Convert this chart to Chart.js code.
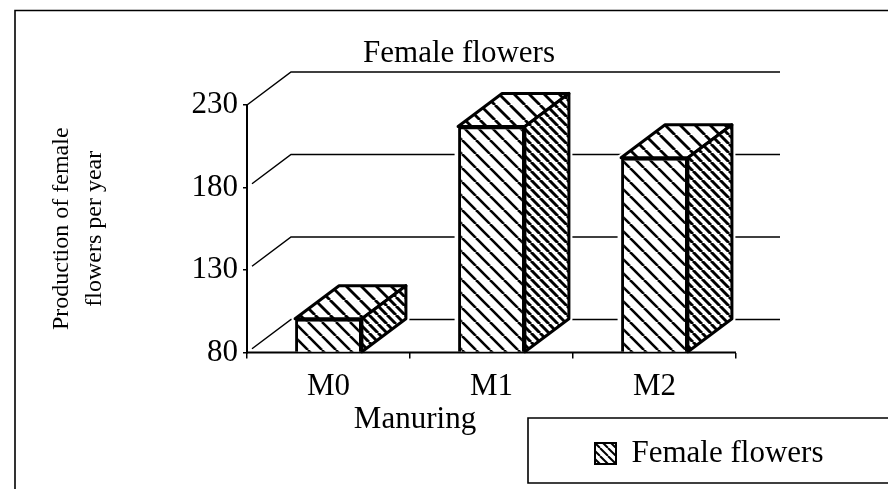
<!DOCTYPE html>
<html>
<head>
<meta charset="utf-8">
<style>html,body{margin:0;padding:0;background:#fff}canvas{display:block}</style>
<script src="https://cdn.jsdelivr.net/npm/chart.js@4/dist/chart.umd.min.js"></script>
</head>
<body>
<canvas id="c" width="888" height="489"></canvas>
<script>
const categories = ['M0', 'M1', 'M2'];
const femaleFlowers = [100.5, 217, 198];
const seriesName = 'Female flowers';
const chartTitle = 'Female flowers';
const yAxisTitle = ['Production of female', 'flowers per year'];
const xAxisTitle = 'Manuring';
const yMin = 80, yMax = 230, yStep = 50;

const FONT = '"Liberation Serif"';
const INK = '#000';
const DEPTH_X = 44, DEPTH_Y = -33;

function hatch(period, width) {
  const t = document.createElement('canvas');
  t.width = t.height = period;
  const g = t.getContext('2d');
  g.fillStyle = '#fff'; g.fillRect(0, 0, period, period);
  g.strokeStyle = INK; g.lineWidth = width;
  [-period, 0, period].forEach(o => {
    g.beginPath(); g.moveTo(o, 0); g.lineTo(o + period, period); g.stroke();
  });
  return document.createElement('canvas').getContext('2d').createPattern(t, 'repeat');
}
const frontHatch = hatch(14, 2.6);
const topHatch = hatch(15, 2.8);
const sideHatch = hatch(9, 3);
const swatchHatch = hatch(8, 2);

function poly(ctx, pts) {
  ctx.beginPath();
  pts.forEach((p, i) => i ? ctx.lineTo(p[0], p[1]) : ctx.moveTo(p[0], p[1]));
  ctx.closePath();
}
function barBox(el) {
  const h = el.width / 2;
  return { l: el.x - h, r: el.x + h, t: el.y, b: el.base };
}

const scene = {
  id: 'scene',
  afterLayout(chart) {
    const lg = chart.legend;
    const h = lg.height;
    lg.left = 585; lg.right = lg.left + 290;
    lg.width = 290;
    lg.top = 428; lg.bottom = lg.top + h;
    const tb = chart.titleBlock;
    tb.left = 30; tb.right = 888; tb.width = 858;
  },
  beforeDatasetsDraw(chart) {
    const { ctx, chartArea: a, scales: { y } } = chart;
    ctx.save();
    ctx.strokeStyle = INK; ctx.lineWidth = 1.5;
    y.ticks.forEach(t => {
      const py = y.getPixelForValue(t.value);
      const start = t.value === yMax ? 0 : 5;
      const k = start / DEPTH_X;
      ctx.beginPath();
      ctx.moveTo(a.left + start, py + DEPTH_Y * k);
      ctx.lineTo(a.left + DEPTH_X, py + DEPTH_Y);
      ctx.lineTo(a.right + DEPTH_X, py + DEPTH_Y);
      ctx.stroke();
    });
    // white halo so wall lines stop short of each column
    chart.getDatasetMeta(0).data.forEach(el => {
      const b = barBox(el);
      ctx.strokeStyle = '#fff'; ctx.lineWidth = 7;
      poly(ctx, [[b.l, b.b], [b.l, b.t], [b.l + DEPTH_X, b.t + DEPTH_Y], [b.r + DEPTH_X, b.t + DEPTH_Y], [b.r + DEPTH_X, b.b + DEPTH_Y], [b.r, b.b]]);
      ctx.stroke();
    });
    ctx.strokeStyle = INK; ctx.lineWidth = 2;
    ctx.beginPath(); ctx.moveTo(a.left, a.bottom); ctx.lineTo(a.right, a.bottom); ctx.stroke();
    ctx.restore();
  },
  afterDatasetsDraw(chart) {
    const { ctx } = chart;
    ctx.save();
    ctx.strokeStyle = INK; ctx.lineWidth = 3; ctx.lineJoin = 'round';
    chart.getDatasetMeta(0).data.forEach(el => {
      const b = barBox(el);
      poly(ctx, [[b.l, b.t], [b.l + DEPTH_X, b.t + DEPTH_Y], [b.r + DEPTH_X, b.t + DEPTH_Y], [b.r, b.t]]);
      ctx.fillStyle = topHatch; ctx.fill(); ctx.stroke();
      poly(ctx, [[b.r, b.t], [b.r + DEPTH_X, b.t + DEPTH_Y], [b.r + DEPTH_X, b.b + DEPTH_Y], [b.r, b.b]]);
      ctx.fillStyle = sideHatch; ctx.fill(); ctx.stroke();
    });
    ctx.restore();
  },
  afterDraw(chart) {
    const { ctx } = chart;
    ctx.save();
    ctx.strokeStyle = INK; ctx.lineWidth = 1.6;
    ctx.beginPath();
    ctx.moveTo(15, 489); ctx.lineTo(15, 10.5); ctx.lineTo(888, 10.5);
    ctx.moveTo(888, 418); ctx.lineTo(528, 418); ctx.lineTo(528, 483); ctx.lineTo(888, 483);
    ctx.stroke();
    ctx.fillStyle = INK;
    ctx.font = '31px ' + FONT;
    ctx.textAlign = 'center';
    ctx.textBaseline = 'alphabetic';
    ctx.fillText(xAxisTitle, 415, 428);
    ctx.restore();
  }
};

new Chart(document.getElementById('c'), {
  type: 'bar',
  plugins: [scene],
  data: {
    labels: categories,
    datasets: [{
      label: seriesName,
      data: femaleFlowers,
      base: yMin,
      backgroundColor: frontHatch,
      borderColor: INK,
      borderWidth: 3,
      barPercentage: 1,
      categoryPercentage: 0.41
    }]
  },
  options: {
    responsive: false,
    animation: false,
    events: [],
    layout: { padding: { left: 30, right: 152 } },
    plugins: {
      tooltip: { enabled: false },
      title: {
        display: true,
        text: chartTitle,
        color: INK,
        font: { family: FONT, size: 31, weight: 'normal' },
        padding: { top: 35, bottom: 32.8 }
      },
      legend: {
        position: 'bottom',
        align: 'start',
        labels: {
          color: INK,
          font: { family: FONT, size: 31 },
          boxWidth: 21,
          boxHeight: 21,
          padding: 10,
          generateLabels: () => [{
            text: seriesName, fillStyle: swatchHatch, strokeStyle: INK, lineWidth: 2, fontColor: INK, datasetIndex: 0
          }]
        }
      }
    },
    scales: {
      x: {
        afterFit(s) { s.height = 85.5; },
        border: { display: false },
        grid: { drawOnChartArea: false, color: INK, lineWidth: 1.5, tickLength: 6 },
        ticks: { color: INK, font: { family: FONT, size: 31 }, padding: 10, maxRotation: 0 }
      },
      y: {
        min: yMin,
        max: yMax,
        afterFit(s) { s.width = 217; },
        border: { color: INK, width: 2 },
        grid: { drawOnChartArea: false, color: INK, lineWidth: 1.5, tickLength: 4 },
        ticks: { stepSize: yStep, color: INK, font: { family: FONT, size: 31 }, padding: 5 },
        title: {
          display: true,
          text: yAxisTitle,
          color: INK,
          font: { family: FONT, size: 24, lineHeight: 1.375 },
          padding: { top: 15.5, bottom: 0 }
        }
      }
    }
  }
});
</script>
</body>
</html>
